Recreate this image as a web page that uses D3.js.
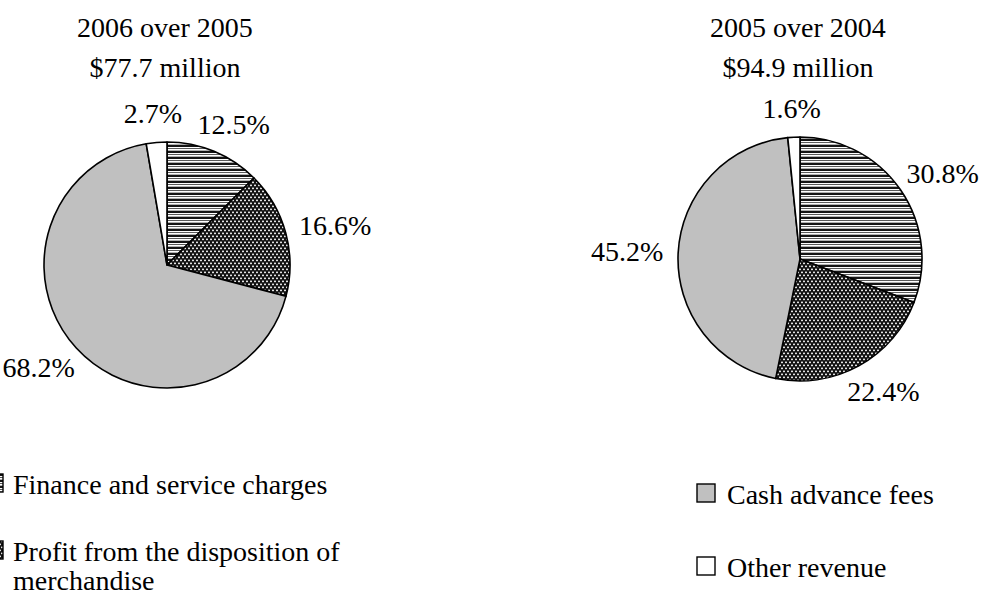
<!DOCTYPE html>
<html>
<head>
<meta charset="utf-8">
<script src="https://cdn.jsdelivr.net/npm/d3@7/dist/d3.min.js"></script>
<style>
  html, body { margin: 0; padding: 0; background: #fff; }
  svg { display: block; }
  text { font-family: "Liberation Serif", "Times New Roman", serif; fill: #000; }
</style>
</head>
<body>
<svg id="chart" width="981" height="597"></svg>
<script>
// ---- data ----
const categories = ["Finance and service charges", "Profit from the disposition of merchandise", "Cash advance fees", "Other revenue"];
const values2006 = [12.5, 16.6, 68.2, 2.7];
const values2005 = [30.8, 22.4, 45.2, 1.6];
const titles2006 = ["2006 over 2005", "$77.7 million"];
const titles2005 = ["2005 over 2004", "$94.9 million"];

// ---- layout ----
const FONT = 28;
const svg = d3.select("#chart");
const defs = svg.append("defs");

// stripes pattern
const stripes = defs.append("pattern").attr("id", "pStripes")
  .attr("patternUnits", "userSpaceOnUse").attr("width", 8).attr("height", 6);
[["#ffffff",0,6],["#151515",0,2],["#5a5a5a",3,1],["#b0b0b0",5,1]].forEach(([c,y,h]) =>
  stripes.append("rect").attr("x",0).attr("y",y).attr("width",8).attr("height",h).attr("fill",c));

// dotted pattern
const dots = defs.append("pattern").attr("id", "pDots")
  .attr("patternUnits", "userSpaceOnUse").attr("width", 4).attr("height", 6);
dots.append("rect").attr("width",4).attr("height",6).attr("fill","#111");
[[1,0.6],[3,3.6],[-1,3.6]].forEach(([x,y]) =>
  dots.append("rect").attr("x",x).attr("y",y).attr("width",2).attr("height",1.6).attr("rx",0.6).attr("fill","#eaeaea"));

const fills = d3.scaleOrdinal().domain(categories)
  .range(["url(#pStripes)", "url(#pDots)", "#c0c0c0", "#ffffff"]);

const pie = d3.pie().sort(null).value(d => d.value);
const fmt = v => d3.format(".1f")(v) + "%";

function drawPie(values, titles, cx, cy, r) {
  const data = categories.map((c, i) => ({ cat: c, value: values[i] }));
  const arcs = pie(data);
  const arc = d3.arc().innerRadius(0).outerRadius(r);
  const g = svg.append("g").attr("transform", `translate(${cx},${cy})`);
  g.selectAll("path.slice").data(arcs).join("path")
    .attr("class", "slice")
    .attr("d", arc)
    .attr("fill", d => fills(d.data.cat))
    .attr("stroke", "#000").attr("stroke-width", 1.6).attr("stroke-linejoin", "round");

  // labels outside end
  const gap = 15;
  g.selectAll("text.lbl").data(arcs).join("text")
    .attr("class", "lbl")
    .attr("font-size", FONT)
    .attr("text-anchor", "middle")
    .attr("dy", "0.35em")
    .text(d => fmt(d.data.value))
    .each(function(d) {
      const a = (d.startAngle + d.endAngle) / 2;
      const dx = Math.sin(a), dy = -Math.cos(a);
      const w = this.getComputedTextLength();
      const h = FONT;
      const x = dx * (r + gap) + dx * w / 2;
      const y = dy * (r + gap) + dy * h / 2;
      d3.select(this).attr("x", x).attr("y", y);
    });

  // titles
  svg.selectAll(null).data(titles).join("text")
    .attr("x", cx - 2).attr("y", (d, i) => 37 + i * 40)
    .attr("font-size", FONT).attr("text-anchor", "middle")
    .text(d => d);
}

drawPie(values2006, titles2006, 167, 265, 123);
drawPie(values2005, titles2005, 800, 259, 122);

// ---- legend ----
const legendLayout = [
  { box: -15, text: 13, y: 494 },
  { box: -15, text: 13, y: 561 },
  { box: 697, text: 727, y: 504 },
  { box: 697, text: 727, y: 577 }
];
const BOX = 18, MAXW = 335, LH = 29;
const lg = svg.append("g");
categories.forEach((c, i) => {
  const L = legendLayout[i];
  lg.append("rect").attr("x", L.box).attr("y", L.y - 20).attr("width", BOX).attr("height", BOX)
    .attr("fill", fills(c)).attr("stroke", "#000").attr("stroke-width", 1.4);
  const t = lg.append("text").attr("x", L.text).attr("y", L.y).attr("font-size", FONT);
  const words = c.split(" ");
  let line = [], tspan = t.append("tspan").attr("x", L.text).attr("y", L.y), lineNo = 0;
  words.forEach(wd => {
    line.push(wd);
    tspan.text(line.join(" "));
    if (tspan.node().getComputedTextLength() > MAXW && line.length > 1) {
      line.pop();
      tspan.text(line.join(" "));
      line = [wd];
      lineNo++;
      tspan = t.append("tspan").attr("x", L.text).attr("y", L.y + lineNo * LH).text(wd);
    }
  });
});
</script>
</body>
</html>
